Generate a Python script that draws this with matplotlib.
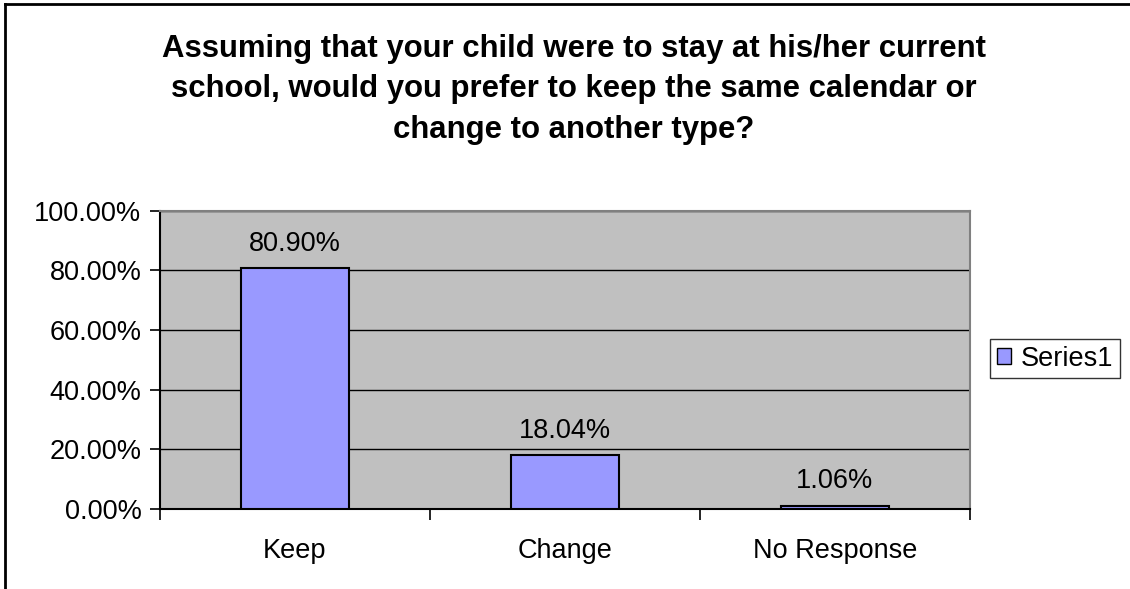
import matplotlib
matplotlib.use("Agg")
import matplotlib.pyplot as plt
from matplotlib.lines import Line2D
from matplotlib.patches import Patch
from matplotlib.ticker import FixedLocator, PercentFormatter

# Survey responses (share of respondents, %)
categories = ["Keep", "Change", "No Response"]
values = [80.90, 18.04, 1.06]
series_name = "Series1"
title = ("Assuming that your child were to stay at his/her current\n"
         "school, would you prefer to keep the same calendar or\n"
         "change to another type?")

plt.rcParams["font.family"] = ["Liberation Sans", "DejaVu Sans"]

BAR_COLOR = "#9999FF"
PLOT_BG = "#C0C0C0"
FS = 19.5

W, H = 1130, 589
fig = plt.figure(figsize=(W / 100, H / 100), dpi=100)
ax = fig.add_axes([159.5 / W, 1 - 508.7 / H, (970 - 159.5) / W, (508.7 - 210.7) / H])
ax.set_facecolor(PLOT_BG)

x = range(len(categories))
bars = ax.bar(x, values, width=0.4, color=BAR_COLOR, edgecolor="black",
              linewidth=1.5, zorder=3)

for rect, v in zip(bars, values):
    ax.annotate(f"{v:.2f}%", (rect.get_x() + rect.get_width() / 2, v),
                xytext=(0, 8), textcoords="offset points",
                ha="center", va="bottom", fontsize=FS)

ax.set_xlim(-0.5, len(categories) - 0.5)
ax.set_ylim(0, 100)
ax.set_yticks(range(0, 101, 20))
ax.yaxis.set_major_formatter(PercentFormatter(decimals=2))
ax.grid(True, axis="y", color="black", linewidth=1.0, zorder=1)

# category labels centred, tick marks on the boundaries
ax.set_xticks(list(x))
ax.set_xticklabels(categories, fontsize=FS)
ax.tick_params(axis="x", which="major", length=0, pad=21)
ax.xaxis.set_minor_locator(FixedLocator([i - 0.5 for i in range(len(categories) + 1)]))
ax.tick_params(axis="x", which="minor", length=8, width=1.2, color="black", direction="out")
ax.tick_params(axis="y", length=7, width=1.2, color="black", direction="out",
               labelsize=FS, pad=6)

for side in ("top", "right"):
    ax.spines[side].set_color("#808080")
    ax.spines[side].set_linewidth(1.5)
for side in ("left", "bottom"):
    ax.spines[side].set_color("black")
    ax.spines[side].set_linewidth(1.5)

fig.text(574 / W, 1 - 89.5 / H, title, ha="center", va="center",
         fontsize=22.4, fontweight="bold", linespacing=1.45)

leg = fig.legend(handles=[Patch(facecolor=BAR_COLOR, edgecolor="black", label=series_name)],
                 loc="center", bbox_to_anchor=(1055 / W, 1 - 358.5 / H),
                 fontsize=FS, frameon=True, fancybox=False, handlelength=0.55,
                 handleheight=0.55, handletextpad=0.35, borderpad=0.25,
                 borderaxespad=0)
leg.get_frame().set_edgecolor("black")
leg.get_frame().set_linewidth(1.0)

# chart-area border (left and top edges)
fig.add_artist(Line2D([4.5 / W, 4.5 / W], [0, 1 - 3.5 / H], color="black", linewidth=2))
fig.add_artist(Line2D([4.5 / W, 1], [1 - 3.5 / H, 1 - 3.5 / H], color="black", linewidth=2))

fig.savefig("out.png", dpi=100, facecolor="white")
